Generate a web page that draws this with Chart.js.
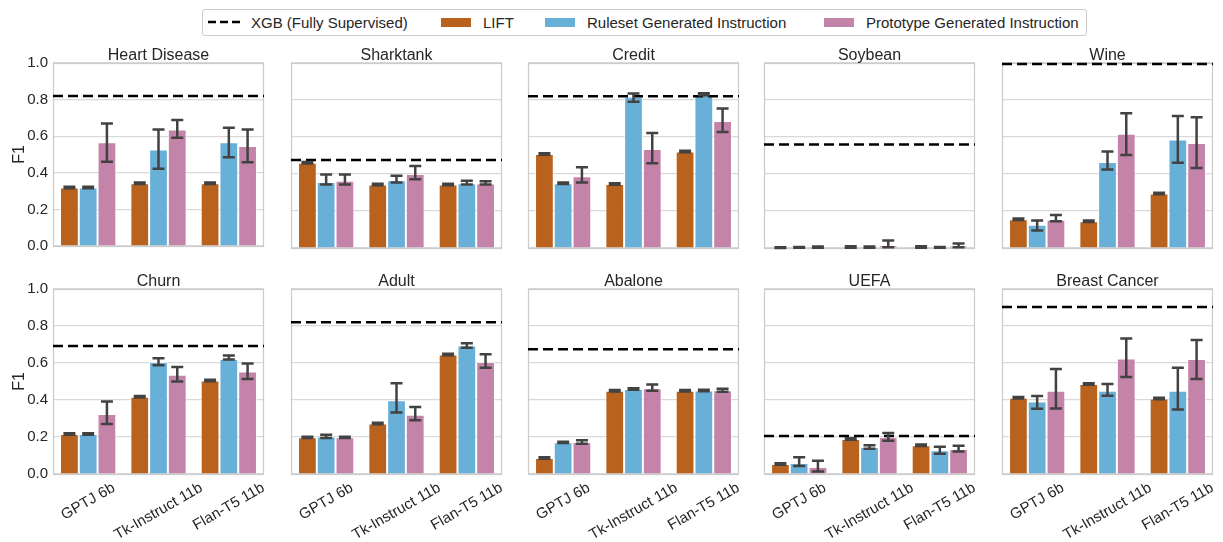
<!DOCTYPE html>
<html>
<head>
<meta charset="utf-8">
<script src="https://cdn.jsdelivr.net/npm/chart.js@4.4.1/dist/chart.umd.min.js"></script>
<style>
  html, body { margin: 0; padding: 0; background: #fff; }
  body { width: 1223px; height: 542px; position: relative; overflow: hidden;
         font-family: "Liberation Sans", Arial, sans-serif; color: #262626; }
  canvas { position: absolute; }
  #legend { position: absolute; left: 202px; top: 9px; width: 885px; height: 27px;
            border: 1px solid #cccccc; border-radius: 3px; box-sizing: border-box; }
  .lbl { position: absolute; top: 0; line-height: 25px; font-size: 15px; white-space: nowrap; }
  .patch { position: absolute; top: 8px; width: 30px; height: 9px; }
  #legend svg { position: absolute; left: 5px; top: 9px; }
</style>
</head>
<body>
<div id="legend"></div>
<script>
(() => {
  'use strict'

  const panels = ['Heart Disease', 'Sharktank', 'Credit', 'Soybean', 'Wine',
                  'Churn', 'Adult', 'Abalone', 'UEFA', 'Breast Cancer']
  const models = ['GPTJ 6b', 'Tk-Instruct 11b', 'Flan-T5 11b']
  const seriesNames = ['LIFT', 'Ruleset Generated Instruction', 'Prototype Generated Instruction']
  const seriesColors = ['#b9621e', '#68b0d8', '#c483a9']
  const yTicks = [0, 0.2, 0.4, 0.6, 0.8, 1.0]

  // XGB (fully supervised) reference score per panel
  const xgb = [0.82, 0.476, 0.82, 0.56, 0.995, 0.692, 0.82, 0.674, 0.205, 0.903]

  const lift = [
    [0.320, 0.343, 0.343], [0.461, 0.343, 0.343], [0.508, 0.346, 0.522],
    [0.002, 0.005, 0.005], [0.156, 0.144, 0.294], [0.216, 0.417, 0.505],
    [0.198, 0.273, 0.646], [0.086, 0.450, 0.450], [0.054, 0.189, 0.155],
    [0.412, 0.487, 0.408]
  ]
  const ruleset = [
    [0.320, 0.528, 0.567], [0.357, 0.366, 0.350], [0.350, 0.817, 0.831],
    [0.003, 0.005, 0.003], [0.126, 0.465, 0.587], [0.216, 0.606, 0.621],
    [0.203, 0.399, 0.694], [0.171, 0.459, 0.451], [0.059, 0.146, 0.128],
    [0.392, 0.450, 0.450]
  ]
  const proto = [
    [0.567, 0.637, 0.546], [0.363, 0.400, 0.348], [0.388, 0.535, 0.686],
    [0.005, 0.015, 0.012], [0.153, 0.618, 0.567], [0.324, 0.536, 0.554],
    [0.198, 0.320, 0.606], [0.173, 0.464, 0.453], [0.038, 0.200, 0.135],
    [0.450, 0.624, 0.621]
  ]

  // error bar intervals [low, high]
  const liftCI = [
    [[0.316, 0.324], [0.339, 0.347], [0.339, 0.347]],
    [[0.457, 0.465], [0.339, 0.347], [0.339, 0.347]],
    [[0.504, 0.512], [0.342, 0.350], [0.518, 0.526]],
    [[0.000, 0.004], [0.001, 0.009], [0.001, 0.009]],
    [[0.152, 0.160], [0.140, 0.148], [0.290, 0.298]],
    [[0.212, 0.220], [0.413, 0.421], [0.501, 0.509]],
    [[0.194, 0.202], [0.269, 0.277], [0.642, 0.650]],
    [[0.082, 0.090], [0.446, 0.454], [0.446, 0.454]],
    [[0.050, 0.058], [0.185, 0.193], [0.151, 0.159]],
    [[0.408, 0.416], [0.483, 0.491], [0.404, 0.412]]
  ]
  const rulesetCI = [
    [[0.316, 0.324], [0.422, 0.637], [0.485, 0.646]],
    [[0.343, 0.397], [0.354, 0.391], [0.343, 0.364]],
    [[0.346, 0.354], [0.790, 0.835], [0.826, 0.837]],
    [[0.001, 0.005], [0.002, 0.008], [0.001, 0.005]],
    [[0.095, 0.149], [0.425, 0.521], [0.461, 0.714]],
    [[0.212, 0.220], [0.588, 0.626], [0.619, 0.640]],
    [[0.194, 0.212], [0.333, 0.491], [0.683, 0.707]],
    [[0.167, 0.175], [0.455, 0.463], [0.447, 0.455]],
    [[0.043, 0.090], [0.137, 0.155], [0.110, 0.147]],
    [[0.353, 0.421], [0.423, 0.486], [0.349, 0.574]]
  ]
  const protoCI = [
    [[0.461, 0.670], [0.591, 0.688], [0.458, 0.637]],
    [[0.343, 0.397], [0.372, 0.443], [0.343, 0.361]],
    [[0.354, 0.436], [0.458, 0.621], [0.627, 0.754]],
    [[0.002, 0.008], [0.004, 0.040], [0.004, 0.025]],
    [[0.144, 0.178], [0.503, 0.729], [0.433, 0.707]],
    [[0.270, 0.392], [0.500, 0.579], [0.514, 0.597]],
    [[0.194, 0.202], [0.290, 0.362], [0.574, 0.647]],
    [[0.164, 0.182], [0.450, 0.484], [0.445, 0.461]],
    [[0.014, 0.072], [0.180, 0.221], [0.121, 0.153]],
    [[0.354, 0.567], [0.525, 0.732], [0.513, 0.725]]
  ]

  Chart.defaults.font.family = '"Liberation Sans", Arial, sans-serif'
  Chart.defaults.color = '#262626'

  // layout of the 2 x 5 grid
  const plotLefts = [53, 291, 528, 764, 1002]
  const plotTops = [63, 289]
  const plotW = 211
  const plotH = 185
  const axisW = 53
  const padTop = 25

  const decor = {
    id: 'decor',
    beforeDatasetsDraw (chart) {
      const { ctx, chartArea: a } = chart
      ctx.save()
      ctx.strokeStyle = '#cccccc'
      ctx.lineWidth = 1.25
      ctx.strokeRect(Math.round(a.left) + 0.5, Math.round(a.top) + 0.5,
        Math.round(a.right - a.left) - 1, Math.round(a.bottom - a.top))
      ctx.restore()
    },
    afterDatasetsDraw (chart, args, opts) {
      const { ctx, chartArea: a, scales: { y } } = chart
      ctx.save()
      // XGB reference line
      const yy = y.getPixelForValue(opts.xgb)
      ctx.setLineDash([10, 5])
      ctx.lineWidth = 2.5
      ctx.strokeStyle = '#000'
      ctx.beginPath()
      ctx.moveTo(a.left, yy)
      ctx.lineTo(a.right, yy)
      ctx.stroke()
      ctx.setLineDash([])
      // error bars
      ctx.strokeStyle = '#424242'
      ctx.lineWidth = 2.5
      chart.data.datasets.forEach((ds, i) => {
        chart.getDatasetMeta(i).data.forEach((bar, j) => {
          const [lo, hi] = ds.ci[j]
          const y0 = y.getPixelForValue(lo)
          const y1 = y.getPixelForValue(hi)
          ctx.beginPath()
          ctx.moveTo(bar.x, y0)
          ctx.lineTo(bar.x, y1)
          ctx.moveTo(bar.x - 6, y0)
          ctx.lineTo(bar.x + 6, y0)
          ctx.moveTo(bar.x - 6, y1)
          ctx.lineTo(bar.x + 6, y1)
          ctx.stroke()
        })
      })
      ctx.restore()
    },
    afterDraw (chart, args, opts) {
      const { ctx, chartArea: a, scales: { x } } = chart
      ctx.save()
      ctx.fillStyle = '#262626'
      ctx.font = '16px "Liberation Sans", Arial, sans-serif'
      ctx.textAlign = 'center'
      ctx.textBaseline = 'alphabetic'
      ctx.fillText(opts.title, (a.left + a.right) / 2, a.top - 3)
      if (opts.xLabels) {
        ctx.font = '15px "Liberation Sans", Arial, sans-serif'
        ctx.textBaseline = 'middle'
        chart.data.labels.forEach((lab, i) => {
          const w = ctx.measureText(lab).width
          const cx = x.getPixelForTick(i)
          const cy = a.bottom + 8 + (w * 0.5 + 11 * 0.866) / 2
          ctx.save()
          ctx.translate(cx, cy)
          ctx.rotate(-Math.PI / 6)
          ctx.fillText(lab, 0, 0)
          ctx.restore()
        })
      }
      ctx.restore()
    }
  }

  const scores = [lift, ruleset, proto]
  const intervals = [liftCI, rulesetCI, protoCI]

  panels.forEach((name, p) => {
    const row = Math.floor(p / 5)
    const col = p % 5
    const padBottom = row === 0 ? 12 : 70
    const canvas = document.createElement('canvas')
    canvas.width = axisW + plotW + 2
    canvas.height = padTop + plotH + padBottom
    canvas.style.left = (plotLefts[col] - axisW) + 'px'
    canvas.style.top = (plotTops[row] - padTop) + 'px'
    document.body.appendChild(canvas)

    new Chart(canvas, {
      type: 'bar',
      data: {
        labels: models,
        datasets: seriesNames.map((s, k) => ({
          label: s,
          data: scores[k][p],
          ci: intervals[k][p],
          backgroundColor: seriesColors[k],
          borderColor: 'rgba(255,255,255,0.6)',
          borderWidth: 1,
          categoryPercentage: 0.8,
          barPercentage: 1.0
        }))
      },
      options: {
        responsive: false,
        animation: false,
        events: [],
        layout: { padding: { top: padTop, bottom: padBottom, left: 0, right: 2 } },
        scales: {
          x: {
            offset: true,
            grid: { display: false },
            border: { display: false },
            ticks: { display: false },
            afterFit: s => { s.height = 0 }
          },
          y: {
            min: 0,
            max: 1,
            grid: { color: '#d9d9d9', lineWidth: 1.25, drawTicks: false },
            border: { display: false },
            afterBuildTicks: s => { s.ticks = yTicks.map(v => ({ value: v })) },
            ticks: {
              display: col === 0,
              padding: 5,
              font: { size: 15 },
              color: '#262626',
              callback: v => Number(v).toFixed(1)
            },
            title: {
              display: col === 0,
              text: 'F1',
              font: { size: 16 },
              color: '#262626',
              padding: { top: 10, bottom: 0 }
            },
            afterFit: s => { s.width = axisW }
          }
        },
        plugins: {
          legend: { display: false },
          tooltip: { enabled: false },
          decor: { title: name, xgb: xgb[p], xLabels: row === 1 }
        }
      },
      plugins: [decor]
    })
  })

  // shared legend
  const legend = document.getElementById('legend')
  let html = '<svg width="32" height="6"><line x1="0" y1="3" x2="32" y2="3" stroke="#000" ' +
    'stroke-width="2.5" stroke-dasharray="8,4"/></svg>' +
    '<span class="lbl" style="left:48px">XGB (Fully Supervised)</span>'
  const patchX = [238, 342, 621]
  seriesNames.forEach((s, k) => {
    html += '<span class="patch" style="left:' + patchX[k] + 'px;background:' + seriesColors[k] + '"></span>' +
      '<span class="lbl" style="left:' + (patchX[k] + 42) + 'px">' + s + '</span>'
  })
  legend.innerHTML = html
})()
</script>
</body>
</html>
